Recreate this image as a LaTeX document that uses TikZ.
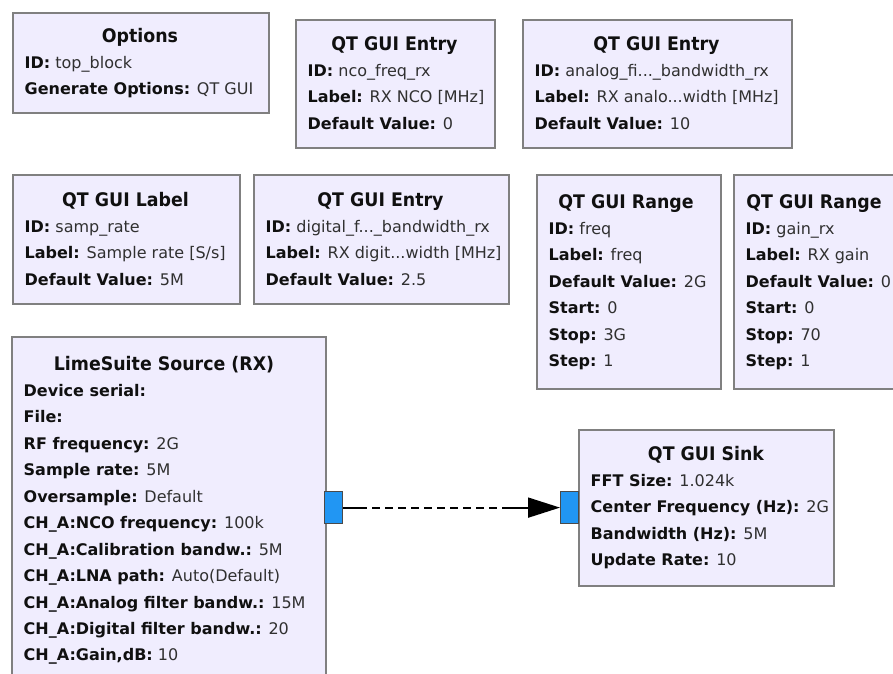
\documentclass[tikz,border=0pt]{standalone}
\usepackage{fontspec}
\setmainfont{DejaVu Sans}
\newfontfamily\titlefont{DejaVu Sans}[FakeStretch=0.93]
\usetikzlibrary{arrows.meta}
\definecolor{boxfill}{HTML}{F0EDFE}
\definecolor{boxline}{HTML}{808080}
\definecolor{labelcol}{HTML}{101010}
\definecolor{valcol}{HTML}{303030}
\definecolor{portfill}{HTML}{2196F3}
\definecolor{portline}{HTML}{4A4A4A}
\newcommand{\lb}[1]{\textbf{\color{labelcol}#1}}
\newcommand{\tdots}{...}
\tikzset{
  blockbox/.style={draw=boxline, fill=boxfill, line width=1.6pt, rectangle, inner sep=0pt},
  titletext/.style={anchor=base, inner sep=0pt, font=\titlefont\fontsize{18.7}{22}\selectfont\bfseries, text=labelcol},
  bodytext/.style={anchor=base west, inner sep=0pt, font=\fontsize{16}{20}\selectfont, text=valcol},
  portbox/.style={draw=portline, fill=portfill, line width=1.2pt, rectangle, inner sep=0pt, minimum width=18pt, minimum height=32pt},
  conn/.style={draw=black, line width=1.8pt},
}
\newcommand{\grcblock}[9]{%
  \node[blockbox, anchor=north west, minimum width={(#4-#2)*1pt}, minimum height={(#5-#3)*1pt}] (#1) at (#2,#3) {};
  \node[titletext] (#1-t) at (#6,#7) {#8};
  \foreach \ln [count=\i] in {#9} {
    \node[bodytext] (#1-\i) at ({#2+12.5},{#7+\i*26.45}) {\ln};
  }%
}
\begin{document}
\begin{tikzpicture}[x=1pt,y=-1pt]
\useasboundingbox (0,0) rectangle (893,673);
\clip (0,0) rectangle (893,673);
\grcblock{opt}{12}{12}{268}{112}{140}{42}{Options}{{\lb{ID:} top\_block},{\lb{Generate Options:} QT GUI}}
\grcblock{enta}{295}{19}{494}{147}{394.5}{50}{QT GUI Entry}{{\lb{ID:} nco\_freq\_rx},{\lb{Label:} RX NCO [MHz]},{\lb{Default Value:} 0}}
\grcblock{entb}{522}{19}{791}{147}{656.5}{50}{QT GUI Entry}{{\lb{ID:} analog\_fi\tdots\_bandwidth\_rx},{\lb{Label:} RX analo\tdots width [MHz]},{\lb{Default Value:} 10}}
\grcblock{lbl}{12}{174}{239}{303}{125.5}{206}{QT GUI Label}{{\lb{ID:} samp\_rate},{\lb{Label:} Sample rate [S/s]},{\lb{Default Value:} 5M}}
\grcblock{entc}{253}{174}{508}{303}{380.5}{206}{QT GUI Entry}{{\lb{ID:} digital\_f\tdots\_bandwidth\_rx},{\lb{Label:} RX digit\tdots width [MHz]},{\lb{Default Value:} 2.5}}
\grcblock{rnga}{536}{174}{720}{388}{626}{208}{QT GUI Range}{{\lb{ID:} freq},{\lb{Label:} freq},{\lb{Default Value:} 2G},{\lb{Start:} 0},{\lb{Stop:} 3G},{\lb{Step:} 1}}
\grcblock{rngb}{733}{174}{905}{388}{814}{208}{QT GUI Range}{{\lb{ID:} gain\_rx},{\lb{Label:} RX gain},{\lb{Default Value:} 0},{\lb{Start:} 0},{\lb{Stop:} 70},{\lb{Step:} 1}}
\grcblock{lime}{11}{336}{325}{700}{164}{370}{LimeSuite Source (RX)}{{\lb{Device serial:}},{\lb{File:}},{\lb{RF frequency:} 2G},{\lb{Sample rate:} 5M},{\lb{Oversample:} Default},{\lb{CH\_A:NCO frequency:} 100k},{\lb{CH\_A:Calibration bandw.:} 5M},{\lb{CH\_A:LNA path:} Auto(Default)},{\lb{CH\_A:Analog filter bandw.:} 15M},{\lb{CH\_A:Digital filter bandw.:} 20},{\lb{CH\_A:Gain,dB:} 10}}
\grcblock{sink}{578}{429}{833}{585}{706}{460}{QT GUI Sink}{{\lb{FFT Size:} 1.024k},{\lb{Center Frequency (Hz):} 2G},{\lb{Bandwidth (Hz):} 5M},{\lb{Update Rate:} 10}}
\node[portbox, anchor=north west] (op) at (324,491) {};
\node[portbox, anchor=north west] (ip) at (560,491) {};
\draw[conn, dash pattern=on 8pt off 5pt] ([xshift=16pt]op.east) -- ([xshift=-52pt]ip.west);
\draw[conn] (op.east) -- ([xshift=16pt]op.east);
\draw[conn, -{Triangle[length=32pt,width=20pt]}] ([xshift=-54pt]ip.west) -- (ip.west);
\end{tikzpicture}
\end{document}
